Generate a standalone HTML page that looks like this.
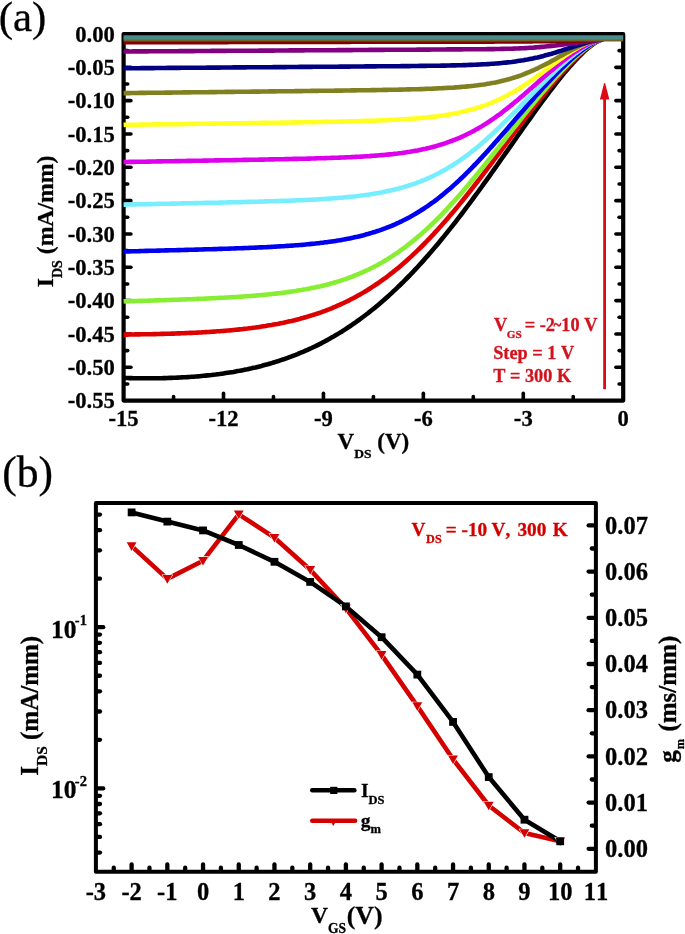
<!DOCTYPE html>
<html><head><meta charset="utf-8"><title>Figure</title>
<style>html,body{margin:0;padding:0;background:#fff;}body{width:685px;height:934px;overflow:hidden;font-family:"Liberation Serif",serif;}svg{display:block;will-change:transform;font-kerning:none;font-feature-settings:"kern" 0;}</style>
</head><body>
<svg width="685" height="934" viewBox="0 0 685 934" font-family='"Liberation Serif", serif'><line x1="124.60" y1="50.66" x2="127.70" y2="50.66" stroke="#000" stroke-width="3.6" stroke-linecap="round"/>
<line x1="622.20" y1="50.66" x2="619.10" y2="50.66" stroke="#000" stroke-width="3.6" stroke-linecap="round"/>
<line x1="124.60" y1="67.33" x2="130.90" y2="67.33" stroke="#000" stroke-width="3.6" stroke-linecap="round"/>
<line x1="622.20" y1="67.33" x2="615.90" y2="67.33" stroke="#000" stroke-width="3.6" stroke-linecap="round"/>
<line x1="124.60" y1="83.99" x2="127.70" y2="83.99" stroke="#000" stroke-width="3.6" stroke-linecap="round"/>
<line x1="622.20" y1="83.99" x2="619.10" y2="83.99" stroke="#000" stroke-width="3.6" stroke-linecap="round"/>
<line x1="124.60" y1="100.65" x2="130.90" y2="100.65" stroke="#000" stroke-width="3.6" stroke-linecap="round"/>
<line x1="622.20" y1="100.65" x2="615.90" y2="100.65" stroke="#000" stroke-width="3.6" stroke-linecap="round"/>
<line x1="124.60" y1="117.32" x2="127.70" y2="117.32" stroke="#000" stroke-width="3.6" stroke-linecap="round"/>
<line x1="622.20" y1="117.32" x2="619.10" y2="117.32" stroke="#000" stroke-width="3.6" stroke-linecap="round"/>
<line x1="124.60" y1="133.98" x2="130.90" y2="133.98" stroke="#000" stroke-width="3.6" stroke-linecap="round"/>
<line x1="622.20" y1="133.98" x2="615.90" y2="133.98" stroke="#000" stroke-width="3.6" stroke-linecap="round"/>
<line x1="124.60" y1="150.65" x2="127.70" y2="150.65" stroke="#000" stroke-width="3.6" stroke-linecap="round"/>
<line x1="622.20" y1="150.65" x2="619.10" y2="150.65" stroke="#000" stroke-width="3.6" stroke-linecap="round"/>
<line x1="124.60" y1="167.31" x2="130.90" y2="167.31" stroke="#000" stroke-width="3.6" stroke-linecap="round"/>
<line x1="622.20" y1="167.31" x2="615.90" y2="167.31" stroke="#000" stroke-width="3.6" stroke-linecap="round"/>
<line x1="124.60" y1="183.97" x2="127.70" y2="183.97" stroke="#000" stroke-width="3.6" stroke-linecap="round"/>
<line x1="622.20" y1="183.97" x2="619.10" y2="183.97" stroke="#000" stroke-width="3.6" stroke-linecap="round"/>
<line x1="124.60" y1="200.64" x2="130.90" y2="200.64" stroke="#000" stroke-width="3.6" stroke-linecap="round"/>
<line x1="622.20" y1="200.64" x2="615.90" y2="200.64" stroke="#000" stroke-width="3.6" stroke-linecap="round"/>
<line x1="124.60" y1="217.30" x2="127.70" y2="217.30" stroke="#000" stroke-width="3.6" stroke-linecap="round"/>
<line x1="622.20" y1="217.30" x2="619.10" y2="217.30" stroke="#000" stroke-width="3.6" stroke-linecap="round"/>
<line x1="124.60" y1="233.96" x2="130.90" y2="233.96" stroke="#000" stroke-width="3.6" stroke-linecap="round"/>
<line x1="622.20" y1="233.96" x2="615.90" y2="233.96" stroke="#000" stroke-width="3.6" stroke-linecap="round"/>
<line x1="124.60" y1="250.63" x2="127.70" y2="250.63" stroke="#000" stroke-width="3.6" stroke-linecap="round"/>
<line x1="622.20" y1="250.63" x2="619.10" y2="250.63" stroke="#000" stroke-width="3.6" stroke-linecap="round"/>
<line x1="124.60" y1="267.29" x2="130.90" y2="267.29" stroke="#000" stroke-width="3.6" stroke-linecap="round"/>
<line x1="622.20" y1="267.29" x2="615.90" y2="267.29" stroke="#000" stroke-width="3.6" stroke-linecap="round"/>
<line x1="124.60" y1="283.95" x2="127.70" y2="283.95" stroke="#000" stroke-width="3.6" stroke-linecap="round"/>
<line x1="622.20" y1="283.95" x2="619.10" y2="283.95" stroke="#000" stroke-width="3.6" stroke-linecap="round"/>
<line x1="124.60" y1="300.62" x2="130.90" y2="300.62" stroke="#000" stroke-width="3.6" stroke-linecap="round"/>
<line x1="622.20" y1="300.62" x2="615.90" y2="300.62" stroke="#000" stroke-width="3.6" stroke-linecap="round"/>
<line x1="124.60" y1="317.28" x2="127.70" y2="317.28" stroke="#000" stroke-width="3.6" stroke-linecap="round"/>
<line x1="622.20" y1="317.28" x2="619.10" y2="317.28" stroke="#000" stroke-width="3.6" stroke-linecap="round"/>
<line x1="124.60" y1="333.95" x2="130.90" y2="333.95" stroke="#000" stroke-width="3.6" stroke-linecap="round"/>
<line x1="622.20" y1="333.95" x2="615.90" y2="333.95" stroke="#000" stroke-width="3.6" stroke-linecap="round"/>
<line x1="124.60" y1="350.61" x2="127.70" y2="350.61" stroke="#000" stroke-width="3.6" stroke-linecap="round"/>
<line x1="622.20" y1="350.61" x2="619.10" y2="350.61" stroke="#000" stroke-width="3.6" stroke-linecap="round"/>
<line x1="124.60" y1="367.27" x2="130.90" y2="367.27" stroke="#000" stroke-width="3.6" stroke-linecap="round"/>
<line x1="622.20" y1="367.27" x2="615.90" y2="367.27" stroke="#000" stroke-width="3.6" stroke-linecap="round"/>
<line x1="124.60" y1="383.94" x2="127.70" y2="383.94" stroke="#000" stroke-width="3.6" stroke-linecap="round"/>
<line x1="622.20" y1="383.94" x2="619.10" y2="383.94" stroke="#000" stroke-width="3.6" stroke-linecap="round"/>
<line x1="173.56" y1="399.60" x2="173.56" y2="396.50" stroke="#000" stroke-width="3.6" stroke-linecap="round"/>
<line x1="223.52" y1="399.60" x2="223.52" y2="393.30" stroke="#000" stroke-width="3.6" stroke-linecap="round"/>
<line x1="273.48" y1="399.60" x2="273.48" y2="396.50" stroke="#000" stroke-width="3.6" stroke-linecap="round"/>
<line x1="323.44" y1="399.60" x2="323.44" y2="393.30" stroke="#000" stroke-width="3.6" stroke-linecap="round"/>
<line x1="373.40" y1="399.60" x2="373.40" y2="396.50" stroke="#000" stroke-width="3.6" stroke-linecap="round"/>
<line x1="423.36" y1="399.60" x2="423.36" y2="393.30" stroke="#000" stroke-width="3.6" stroke-linecap="round"/>
<line x1="473.32" y1="399.60" x2="473.32" y2="396.50" stroke="#000" stroke-width="3.6" stroke-linecap="round"/>
<line x1="523.28" y1="399.60" x2="523.28" y2="393.30" stroke="#000" stroke-width="3.6" stroke-linecap="round"/>
<line x1="573.24" y1="399.60" x2="573.24" y2="396.50" stroke="#000" stroke-width="3.6" stroke-linecap="round"/>
<rect x="123.6" y="34.0" width="499.6" height="366.6" fill="none" stroke="#000" stroke-width="4.2" stroke-linejoin="round"/>
<path d="M123.6,377.9 L125.6,378.0 L127.6,378.0 L129.6,378.1 L131.6,378.1 L133.6,378.2 L135.6,378.2 L137.6,378.2 L139.6,378.2 L141.6,378.3 L143.6,378.3 L145.6,378.3 L147.6,378.3 L149.6,378.3 L151.6,378.3 L153.6,378.3 L155.6,378.2 L157.6,378.2 L159.6,378.2 L161.6,378.2 L163.6,378.1 L165.6,378.1 L167.6,378.0 L169.6,377.9 L171.6,377.9 L173.6,377.8 L175.6,377.7 L177.6,377.6 L179.6,377.5 L181.6,377.4 L183.6,377.3 L185.6,377.2 L187.6,377.1 L189.6,377.0 L191.6,376.8 L193.6,376.7 L195.6,376.5 L197.6,376.4 L199.6,376.2 L201.6,376.0 L203.6,375.8 L205.6,375.6 L207.6,375.4 L209.6,375.2 L211.6,375.0 L213.6,374.7 L215.6,374.5 L217.6,374.2 L219.6,374.0 L221.6,373.7 L223.6,373.4 L225.6,373.1 L227.6,372.8 L229.6,372.5 L231.6,372.2 L233.6,371.9 L235.6,371.5 L237.6,371.1 L239.6,370.8 L241.6,370.4 L243.6,370.0 L245.6,369.6 L247.6,369.2 L249.6,368.7 L251.6,368.3 L253.6,367.8 L255.6,367.4 L257.6,366.9 L259.6,366.4 L261.6,365.9 L263.6,365.3 L265.6,364.8 L267.6,364.3 L269.6,363.7 L271.6,363.1 L273.6,362.5 L275.6,361.9 L277.6,361.3 L279.6,360.6 L281.6,359.9 L283.6,359.3 L285.6,358.6 L287.6,357.9 L289.6,357.1 L291.6,356.4 L293.6,355.6 L295.6,354.9 L297.6,354.1 L299.6,353.2 L301.6,352.4 L303.6,351.6 L305.6,350.7 L307.6,349.8 L309.6,348.9 L311.6,348.0 L313.6,347.0 L315.6,346.1 L317.6,345.1 L319.6,344.1 L321.6,343.1 L323.6,342.0 L325.6,340.9 L327.6,339.9 L329.6,338.7 L331.6,337.6 L333.6,336.5 L335.6,335.3 L337.6,334.1 L339.6,332.9 L341.6,331.7 L343.6,330.4 L345.6,329.1 L347.6,327.8 L349.6,326.5 L351.6,325.1 L353.6,323.7 L355.6,322.4 L357.6,320.9 L359.6,319.5 L361.6,318.0 L363.6,316.5 L365.6,315.0 L367.6,313.5 L369.6,311.9 L371.6,310.3 L373.6,308.7 L375.6,307.1 L377.6,305.4 L379.6,303.7 L381.6,302.0 L383.6,300.3 L385.6,298.5 L387.6,296.7 L389.6,294.9 L391.6,293.1 L393.6,291.2 L395.6,289.3 L397.6,287.4 L399.6,285.5 L401.6,283.5 L403.6,281.6 L405.6,279.5 L407.6,277.5 L409.6,275.5 L411.6,273.4 L413.6,271.3 L415.6,269.1 L417.6,267.0 L419.6,264.8 L421.6,262.6 L423.6,260.4 L425.6,258.1 L427.6,255.9 L429.6,253.6 L431.6,251.3 L433.6,248.9 L435.6,246.6 L437.6,244.2 L439.6,241.8 L441.6,239.3 L443.6,236.9 L445.6,234.4 L447.6,231.9 L449.6,229.4 L451.6,226.9 L453.6,224.4 L455.6,221.8 L457.6,219.2 L459.6,216.6 L461.6,214.0 L463.6,211.4 L465.6,208.7 L467.6,206.0 L469.6,203.4 L471.6,200.7 L473.6,197.9 L475.6,195.2 L477.6,192.5 L479.6,189.7 L481.6,187.0 L483.6,184.2 L485.6,181.4 L487.6,178.6 L489.6,175.8 L491.6,173.0 L493.6,170.2 L495.6,167.4 L497.6,164.5 L499.6,161.7 L501.6,158.8 L503.6,156.0 L505.6,153.1 L507.6,150.3 L509.6,147.4 L511.6,144.6 L513.6,141.7 L515.6,138.9 L517.6,136.0 L519.6,133.2 L521.6,130.4 L523.6,127.5 L525.6,124.7 L527.6,121.9 L529.6,119.1 L531.6,116.3 L533.6,113.5 L535.6,110.7 L537.6,107.9 L539.6,105.2 L541.6,102.5 L543.6,99.7 L545.6,97.1 L547.6,94.4 L549.6,91.7 L551.6,89.1 L553.6,86.5 L555.6,83.9 L557.6,81.4 L559.6,78.9 L561.6,76.4 L563.6,73.9 L565.6,71.5 L567.6,69.2 L569.6,66.8 L571.6,64.6 L573.6,62.3 L575.6,60.2 L577.6,58.1 L579.6,56.0 L581.6,54.0 L583.6,52.1 L585.6,50.2 L587.6,48.5 L589.6,46.8 L591.6,45.3 L593.6,43.8 L595.6,42.5 L597.6,41.4 L599.6,40.4 L601.6,39.7 L603.0,39.5" fill="none" stroke="#000000" stroke-width="4.6" stroke-linejoin="round" stroke-linecap="butt"/>
<path d="M123.6,334.6 L125.6,334.6 L127.6,334.6 L129.6,334.5 L131.6,334.5 L133.6,334.5 L135.6,334.4 L137.6,334.4 L139.6,334.4 L141.6,334.3 L143.6,334.3 L145.6,334.3 L147.6,334.2 L149.6,334.2 L151.6,334.2 L153.6,334.1 L155.6,334.1 L157.6,334.0 L159.6,334.0 L161.6,333.9 L163.6,333.9 L165.6,333.8 L167.6,333.8 L169.6,333.7 L171.6,333.6 L173.6,333.6 L175.6,333.5 L177.6,333.4 L179.6,333.4 L181.6,333.3 L183.6,333.2 L185.6,333.1 L187.6,333.0 L189.6,332.9 L191.6,332.9 L193.6,332.8 L195.6,332.7 L197.6,332.6 L199.6,332.5 L201.6,332.4 L203.6,332.2 L205.6,332.1 L207.6,332.0 L209.6,331.9 L211.6,331.7 L213.6,331.6 L215.6,331.5 L217.6,331.3 L219.6,331.2 L221.6,331.0 L223.6,330.9 L225.6,330.7 L227.6,330.5 L229.6,330.4 L231.6,330.2 L233.6,330.0 L235.6,329.8 L237.6,329.6 L239.6,329.4 L241.6,329.2 L243.6,328.9 L245.6,328.7 L247.6,328.5 L249.6,328.2 L251.6,328.0 L253.6,327.7 L255.6,327.5 L257.6,327.2 L259.6,326.9 L261.6,326.6 L263.6,326.3 L265.6,326.0 L267.6,325.6 L269.6,325.3 L271.6,325.0 L273.6,324.6 L275.6,324.2 L277.6,323.9 L279.6,323.5 L281.6,323.1 L283.6,322.7 L285.6,322.2 L287.6,321.8 L289.6,321.3 L291.6,320.9 L293.6,320.4 L295.6,319.9 L297.6,319.4 L299.6,318.9 L301.6,318.3 L303.6,317.8 L305.6,317.2 L307.6,316.6 L309.6,316.0 L311.6,315.4 L313.6,314.8 L315.6,314.1 L317.6,313.5 L319.6,312.8 L321.6,312.1 L323.6,311.3 L325.6,310.6 L327.6,309.8 L329.6,309.1 L331.6,308.3 L333.6,307.4 L335.6,306.6 L337.6,305.7 L339.6,304.8 L341.6,303.9 L343.6,303.0 L345.6,302.0 L347.6,301.1 L349.6,300.1 L351.6,299.0 L353.6,298.0 L355.6,296.9 L357.6,295.8 L359.6,294.7 L361.6,293.6 L363.6,292.4 L365.6,291.2 L367.6,290.0 L369.6,288.7 L371.6,287.4 L373.6,286.1 L375.6,284.8 L377.6,283.5 L379.6,282.1 L381.6,280.7 L383.6,279.2 L385.6,277.8 L387.6,276.3 L389.6,274.7 L391.6,273.2 L393.6,271.6 L395.6,270.0 L397.6,268.4 L399.6,266.7 L401.6,265.0 L403.6,263.3 L405.6,261.5 L407.6,259.7 L409.6,257.9 L411.6,256.1 L413.6,254.2 L415.6,252.3 L417.6,250.4 L419.6,248.5 L421.6,246.5 L423.6,244.5 L425.6,242.5 L427.6,240.4 L429.6,238.3 L431.6,236.2 L433.6,234.1 L435.6,231.9 L437.6,229.7 L439.6,227.5 L441.6,225.3 L443.6,223.0 L445.6,220.7 L447.6,218.4 L449.6,216.1 L451.6,213.7 L453.6,211.4 L455.6,209.0 L457.6,206.6 L459.6,204.1 L461.6,201.7 L463.6,199.2 L465.6,196.7 L467.6,194.2 L469.6,191.7 L471.6,189.2 L473.6,186.6 L475.6,184.0 L477.6,181.5 L479.6,178.9 L481.6,176.3 L483.6,173.6 L485.6,171.0 L487.6,168.4 L489.6,165.8 L491.6,163.1 L493.6,160.4 L495.6,157.8 L497.6,155.1 L499.6,152.5 L501.6,149.8 L503.6,147.1 L505.6,144.4 L507.6,141.8 L509.6,139.1 L511.6,136.4 L513.6,133.7 L515.6,131.1 L517.6,128.4 L519.6,125.8 L521.6,123.1 L523.6,120.5 L525.6,117.8 L527.6,115.2 L529.6,112.6 L531.6,110.0 L533.6,107.4 L535.6,104.9 L537.6,102.3 L539.6,99.8 L541.6,97.3 L543.6,94.8 L545.6,92.3 L547.6,89.8 L549.6,87.4 L551.6,85.0 L553.6,82.6 L555.6,80.2 L557.6,77.9 L559.6,75.6 L561.6,73.3 L563.6,71.1 L565.6,68.9 L567.6,66.7 L569.6,64.6 L571.6,62.5 L573.6,60.5 L575.6,58.5 L577.6,56.6 L579.6,54.7 L581.6,52.9 L583.6,51.1 L585.6,49.4 L587.6,47.8 L589.6,46.3 L591.6,44.9 L593.6,43.5 L595.6,42.3 L597.6,41.3 L599.6,40.4 L601.6,39.7 L603.0,39.5" fill="none" stroke="#dd0000" stroke-width="4.6" stroke-linejoin="round" stroke-linecap="butt"/>
<path d="M123.6,301.4 L125.6,301.3 L127.6,301.3 L129.6,301.2 L131.6,301.1 L133.6,301.1 L135.6,301.0 L137.6,301.0 L139.6,300.9 L141.6,300.9 L143.6,300.8 L145.6,300.7 L147.6,300.7 L149.6,300.6 L151.6,300.5 L153.6,300.5 L155.6,300.4 L157.6,300.4 L159.6,300.3 L161.6,300.2 L163.6,300.2 L165.6,300.1 L167.6,300.0 L169.6,300.0 L171.6,299.9 L173.6,299.8 L175.6,299.8 L177.6,299.7 L179.6,299.6 L181.6,299.5 L183.6,299.5 L185.6,299.4 L187.6,299.3 L189.6,299.2 L191.6,299.2 L193.6,299.1 L195.6,299.0 L197.6,298.9 L199.6,298.8 L201.6,298.8 L203.6,298.7 L205.6,298.6 L207.6,298.5 L209.6,298.4 L211.6,298.3 L213.6,298.2 L215.6,298.1 L217.6,298.0 L219.6,297.9 L221.6,297.8 L223.6,297.7 L225.6,297.6 L227.6,297.5 L229.6,297.4 L231.6,297.2 L233.6,297.1 L235.6,297.0 L237.6,296.9 L239.6,296.7 L241.6,296.6 L243.6,296.5 L245.6,296.3 L247.6,296.2 L249.6,296.0 L251.6,295.9 L253.6,295.7 L255.6,295.6 L257.6,295.4 L259.6,295.2 L261.6,295.0 L263.6,294.9 L265.6,294.7 L267.6,294.5 L269.6,294.3 L271.6,294.1 L273.6,293.8 L275.6,293.6 L277.6,293.4 L279.6,293.2 L281.6,292.9 L283.6,292.7 L285.6,292.4 L287.6,292.1 L289.6,291.9 L291.6,291.6 L293.6,291.3 L295.6,291.0 L297.6,290.6 L299.6,290.3 L301.6,290.0 L303.6,289.6 L305.6,289.3 L307.6,288.9 L309.6,288.5 L311.6,288.1 L313.6,287.7 L315.6,287.3 L317.6,286.8 L319.6,286.4 L321.6,285.9 L323.6,285.4 L325.6,284.9 L327.6,284.4 L329.6,283.9 L331.6,283.3 L333.6,282.8 L335.6,282.2 L337.6,281.6 L339.6,281.0 L341.6,280.3 L343.6,279.6 L345.6,279.0 L347.6,278.3 L349.6,277.5 L351.6,276.8 L353.6,276.0 L355.6,275.2 L357.6,274.4 L359.6,273.6 L361.6,272.7 L363.6,271.8 L365.6,270.9 L367.6,270.0 L369.6,269.0 L371.6,268.0 L373.6,267.0 L375.6,266.0 L377.6,264.9 L379.6,263.8 L381.6,262.7 L383.6,261.5 L385.6,260.3 L387.6,259.1 L389.6,257.8 L391.6,256.6 L393.6,255.3 L395.6,253.9 L397.6,252.6 L399.6,251.2 L401.6,249.7 L403.6,248.3 L405.6,246.8 L407.6,245.2 L409.6,243.7 L411.6,242.1 L413.6,240.5 L415.6,238.8 L417.6,237.1 L419.6,235.4 L421.6,233.7 L423.6,231.9 L425.6,230.1 L427.6,228.3 L429.6,226.4 L431.6,224.5 L433.6,222.6 L435.6,220.6 L437.6,218.6 L439.6,216.6 L441.6,214.6 L443.6,212.5 L445.6,210.4 L447.6,208.3 L449.6,206.1 L451.6,203.9 L453.6,201.7 L455.6,199.5 L457.6,197.2 L459.6,195.0 L461.6,192.7 L463.6,190.4 L465.6,188.0 L467.6,185.7 L469.6,183.3 L471.6,180.9 L473.6,178.5 L475.6,176.1 L477.6,173.6 L479.6,171.2 L481.6,168.7 L483.6,166.2 L485.6,163.7 L487.6,161.2 L489.6,158.7 L491.6,156.2 L493.6,153.7 L495.6,151.1 L497.6,148.6 L499.6,146.1 L501.6,143.5 L503.6,141.0 L505.6,138.4 L507.6,135.9 L509.6,133.3 L511.6,130.8 L513.6,128.2 L515.6,125.7 L517.6,123.2 L519.6,120.6 L521.6,118.1 L523.6,115.6 L525.6,113.1 L527.6,110.6 L529.6,108.1 L531.6,105.7 L533.6,103.2 L535.6,100.8 L537.6,98.4 L539.6,96.0 L541.6,93.6 L543.6,91.2 L545.6,88.9 L547.6,86.6 L549.6,84.3 L551.6,82.0 L553.6,79.7 L555.6,77.5 L557.6,75.3 L559.6,73.2 L561.6,71.0 L563.6,68.9 L565.6,66.9 L567.6,64.8 L569.6,62.8 L571.6,60.9 L573.6,59.0 L575.6,57.1 L577.6,55.3 L579.6,53.6 L581.6,51.9 L583.6,50.2 L585.6,48.7 L587.6,47.2 L589.6,45.8 L591.6,44.4 L593.6,43.2 L595.6,42.1 L597.6,41.1 L599.6,40.3 L601.6,39.7 L603.0,39.5" fill="none" stroke="#88ee33" stroke-width="4.6" stroke-linejoin="round" stroke-linecap="butt"/>
<path d="M123.6,251.5 L125.6,251.5 L127.6,251.4 L129.6,251.4 L131.6,251.3 L133.6,251.3 L135.6,251.2 L137.6,251.2 L139.6,251.1 L141.6,251.0 L143.6,251.0 L145.6,250.9 L147.6,250.9 L149.6,250.8 L151.6,250.8 L153.6,250.7 L155.6,250.7 L157.6,250.6 L159.6,250.6 L161.6,250.5 L163.6,250.5 L165.6,250.4 L167.6,250.4 L169.6,250.3 L171.6,250.3 L173.6,250.2 L175.6,250.2 L177.6,250.1 L179.6,250.1 L181.6,250.0 L183.6,250.0 L185.6,249.9 L187.6,249.9 L189.6,249.8 L191.6,249.7 L193.6,249.7 L195.6,249.6 L197.6,249.6 L199.6,249.5 L201.6,249.5 L203.6,249.4 L205.6,249.3 L207.6,249.3 L209.6,249.2 L211.6,249.2 L213.6,249.1 L215.6,249.1 L217.6,249.0 L219.6,248.9 L221.6,248.9 L223.6,248.8 L225.6,248.7 L227.6,248.7 L229.6,248.6 L231.6,248.5 L233.6,248.5 L235.6,248.4 L237.6,248.3 L239.6,248.3 L241.6,248.2 L243.6,248.1 L245.6,248.0 L247.6,248.0 L249.6,247.9 L251.6,247.8 L253.6,247.7 L255.6,247.6 L257.6,247.5 L259.6,247.4 L261.6,247.4 L263.6,247.3 L265.6,247.2 L267.6,247.1 L269.6,247.0 L271.6,246.9 L273.6,246.8 L275.6,246.6 L277.6,246.5 L279.6,246.4 L281.6,246.3 L283.6,246.2 L285.6,246.0 L287.6,245.9 L289.6,245.8 L291.6,245.6 L293.6,245.5 L295.6,245.3 L297.6,245.2 L299.6,245.0 L301.6,244.9 L303.6,244.7 L305.6,244.5 L307.6,244.3 L309.6,244.1 L311.6,243.9 L313.6,243.7 L315.6,243.5 L317.6,243.3 L319.6,243.1 L321.6,242.8 L323.6,242.6 L325.6,242.3 L327.6,242.1 L329.6,241.8 L331.6,241.5 L333.6,241.2 L335.6,240.9 L337.6,240.6 L339.6,240.3 L341.6,239.9 L343.6,239.6 L345.6,239.2 L347.6,238.8 L349.6,238.4 L351.6,238.0 L353.6,237.6 L355.6,237.1 L357.6,236.7 L359.6,236.2 L361.6,235.7 L363.6,235.2 L365.6,234.6 L367.6,234.1 L369.6,233.5 L371.6,232.9 L373.6,232.3 L375.6,231.7 L377.6,231.0 L379.6,230.4 L381.6,229.7 L383.6,228.9 L385.6,228.2 L387.6,227.4 L389.6,226.6 L391.6,225.8 L393.6,225.0 L395.6,224.1 L397.6,223.2 L399.6,222.2 L401.6,221.3 L403.6,220.3 L405.6,219.3 L407.6,218.2 L409.6,217.2 L411.6,216.1 L413.6,214.9 L415.6,213.7 L417.6,212.5 L419.6,211.3 L421.6,210.0 L423.6,208.7 L425.6,207.4 L427.6,206.1 L429.6,204.7 L431.6,203.2 L433.6,201.8 L435.6,200.3 L437.6,198.8 L439.6,197.2 L441.6,195.6 L443.6,194.0 L445.6,192.3 L447.6,190.6 L449.6,188.9 L451.6,187.2 L453.6,185.4 L455.6,183.6 L457.6,181.8 L459.6,179.9 L461.6,178.0 L463.6,176.1 L465.6,174.1 L467.6,172.1 L469.6,170.1 L471.6,168.1 L473.6,166.0 L475.6,164.0 L477.6,161.9 L479.6,159.7 L481.6,157.6 L483.6,155.4 L485.6,153.3 L487.6,151.1 L489.6,148.8 L491.6,146.6 L493.6,144.4 L495.6,142.1 L497.6,139.9 L499.6,137.6 L501.6,135.3 L503.6,133.0 L505.6,130.7 L507.6,128.4 L509.6,126.1 L511.6,123.7 L513.6,121.4 L515.6,119.1 L517.6,116.8 L519.6,114.5 L521.6,112.2 L523.6,109.9 L525.6,107.5 L527.6,105.2 L529.6,103.0 L531.6,100.7 L533.6,98.4 L535.6,96.1 L537.6,93.9 L539.6,91.7 L541.6,89.5 L543.6,87.3 L545.6,85.1 L547.6,82.9 L549.6,80.8 L551.6,78.7 L553.6,76.6 L555.6,74.5 L557.6,72.4 L559.6,70.4 L561.6,68.4 L563.6,66.5 L565.6,64.6 L567.6,62.7 L569.6,60.8 L571.6,59.0 L573.6,57.3 L575.6,55.5 L577.6,53.9 L579.6,52.3 L581.6,50.7 L583.6,49.2 L585.6,47.7 L587.6,46.4 L589.6,45.1 L591.6,43.9 L593.6,42.8 L595.6,41.8 L597.6,40.9 L599.6,40.2 L601.6,39.7 L603.0,39.5" fill="none" stroke="#0000f0" stroke-width="4.6" stroke-linejoin="round" stroke-linecap="butt"/>
<path d="M123.6,204.6 L125.6,204.6 L127.6,204.5 L129.6,204.5 L131.6,204.5 L133.6,204.4 L135.6,204.4 L137.6,204.3 L139.6,204.3 L141.6,204.3 L143.6,204.2 L145.6,204.2 L147.6,204.1 L149.6,204.1 L151.6,204.1 L153.6,204.0 L155.6,204.0 L157.6,203.9 L159.6,203.9 L161.6,203.8 L163.6,203.8 L165.6,203.8 L167.6,203.7 L169.6,203.7 L171.6,203.6 L173.6,203.6 L175.6,203.6 L177.6,203.5 L179.6,203.5 L181.6,203.4 L183.6,203.4 L185.6,203.3 L187.6,203.3 L189.6,203.3 L191.6,203.2 L193.6,203.2 L195.6,203.1 L197.6,203.1 L199.6,203.0 L201.6,203.0 L203.6,203.0 L205.6,202.9 L207.6,202.9 L209.6,202.8 L211.6,202.8 L213.6,202.7 L215.6,202.7 L217.6,202.7 L219.6,202.6 L221.6,202.6 L223.6,202.5 L225.6,202.5 L227.6,202.4 L229.6,202.4 L231.6,202.3 L233.6,202.3 L235.6,202.2 L237.6,202.2 L239.6,202.1 L241.6,202.1 L243.6,202.0 L245.6,202.0 L247.6,201.9 L249.6,201.9 L251.6,201.8 L253.6,201.8 L255.6,201.7 L257.6,201.7 L259.6,201.6 L261.6,201.6 L263.6,201.5 L265.6,201.4 L267.6,201.4 L269.6,201.3 L271.6,201.3 L273.6,201.2 L275.6,201.1 L277.6,201.1 L279.6,201.0 L281.6,200.9 L283.6,200.9 L285.6,200.8 L287.6,200.7 L289.6,200.7 L291.6,200.6 L293.6,200.5 L295.6,200.4 L297.6,200.3 L299.6,200.3 L301.6,200.2 L303.6,200.1 L305.6,200.0 L307.6,199.9 L309.6,199.8 L311.6,199.7 L313.6,199.6 L315.6,199.5 L317.6,199.4 L319.6,199.2 L321.6,199.1 L323.6,199.0 L325.6,198.9 L327.6,198.7 L329.6,198.6 L331.6,198.5 L333.6,198.3 L335.6,198.2 L337.6,198.0 L339.6,197.8 L341.6,197.7 L343.6,197.5 L345.6,197.3 L347.6,197.1 L349.6,196.9 L351.6,196.7 L353.6,196.5 L355.6,196.3 L357.6,196.0 L359.6,195.8 L361.6,195.5 L363.6,195.3 L365.6,195.0 L367.6,194.7 L369.6,194.4 L371.6,194.1 L373.6,193.8 L375.6,193.4 L377.6,193.1 L379.6,192.7 L381.6,192.4 L383.6,192.0 L385.6,191.6 L387.6,191.1 L389.6,190.7 L391.6,190.3 L393.6,189.8 L395.6,189.3 L397.6,188.8 L399.6,188.3 L401.6,187.7 L403.6,187.1 L405.6,186.5 L407.6,185.9 L409.6,185.3 L411.6,184.6 L413.6,184.0 L415.6,183.3 L417.6,182.5 L419.6,181.8 L421.6,181.0 L423.6,180.2 L425.6,179.3 L427.6,178.5 L429.6,177.6 L431.6,176.7 L433.6,175.7 L435.6,174.7 L437.6,173.7 L439.6,172.7 L441.6,171.6 L443.6,170.5 L445.6,169.4 L447.6,168.2 L449.6,167.0 L451.6,165.8 L453.6,164.5 L455.6,163.2 L457.6,161.9 L459.6,160.6 L461.6,159.2 L463.6,157.8 L465.6,156.3 L467.6,154.8 L469.6,153.3 L471.6,151.7 L473.6,150.2 L475.6,148.6 L477.6,146.9 L479.6,145.2 L481.6,143.5 L483.6,141.8 L485.6,140.1 L487.6,138.3 L489.6,136.5 L491.6,134.6 L493.6,132.8 L495.6,130.9 L497.6,129.0 L499.6,127.1 L501.6,125.1 L503.6,123.2 L505.6,121.2 L507.6,119.2 L509.6,117.2 L511.6,115.2 L513.6,113.2 L515.6,111.1 L517.6,109.1 L519.6,107.0 L521.6,104.9 L523.6,102.9 L525.6,100.8 L527.6,98.7 L529.6,96.7 L531.6,94.6 L533.6,92.6 L535.6,90.5 L537.6,88.4 L539.6,86.4 L541.6,84.4 L543.6,82.4 L545.6,80.4 L547.6,78.4 L549.6,76.4 L551.6,74.5 L553.6,72.5 L555.6,70.6 L557.6,68.7 L559.6,66.9 L561.6,65.1 L563.6,63.3 L565.6,61.5 L567.6,59.8 L569.6,58.1 L571.6,56.5 L573.6,54.9 L575.6,53.3 L577.6,51.8 L579.6,50.3 L581.6,48.9 L583.6,47.6 L585.6,46.3 L587.6,45.1 L589.6,44.0 L591.6,43.0 L593.6,42.1 L595.6,41.2 L597.6,40.5 L599.6,40.0 L601.6,39.6 L603.0,39.5" fill="none" stroke="#77eeff" stroke-width="4.6" stroke-linejoin="round" stroke-linecap="butt"/>
<path d="M123.6,162.0 L125.6,162.0 L127.6,162.0 L129.6,161.9 L131.6,161.9 L133.6,161.9 L135.6,161.8 L137.6,161.8 L139.6,161.8 L141.6,161.7 L143.6,161.7 L145.6,161.7 L147.6,161.6 L149.6,161.6 L151.6,161.5 L153.6,161.5 L155.6,161.5 L157.6,161.4 L159.6,161.4 L161.6,161.4 L163.6,161.3 L165.6,161.3 L167.6,161.3 L169.6,161.2 L171.6,161.2 L173.6,161.2 L175.6,161.1 L177.6,161.1 L179.6,161.1 L181.6,161.0 L183.6,161.0 L185.6,161.0 L187.6,160.9 L189.6,160.9 L191.6,160.9 L193.6,160.8 L195.6,160.8 L197.6,160.8 L199.6,160.7 L201.6,160.7 L203.6,160.6 L205.6,160.6 L207.6,160.6 L209.6,160.5 L211.6,160.5 L213.6,160.5 L215.6,160.4 L217.6,160.4 L219.6,160.4 L221.6,160.3 L223.6,160.3 L225.6,160.3 L227.6,160.2 L229.6,160.2 L231.6,160.2 L233.6,160.1 L235.6,160.1 L237.6,160.0 L239.6,160.0 L241.6,160.0 L243.6,159.9 L245.6,159.9 L247.6,159.9 L249.6,159.8 L251.6,159.8 L253.6,159.8 L255.6,159.7 L257.6,159.7 L259.6,159.6 L261.6,159.6 L263.6,159.6 L265.6,159.5 L267.6,159.5 L269.6,159.4 L271.6,159.4 L273.6,159.4 L275.6,159.3 L277.6,159.3 L279.6,159.2 L281.6,159.2 L283.6,159.2 L285.6,159.1 L287.6,159.1 L289.6,159.0 L291.6,159.0 L293.6,158.9 L295.6,158.9 L297.6,158.9 L299.6,158.8 L301.6,158.8 L303.6,158.7 L305.6,158.7 L307.6,158.6 L309.6,158.6 L311.6,158.5 L313.6,158.5 L315.6,158.4 L317.6,158.3 L319.6,158.3 L321.6,158.2 L323.6,158.2 L325.6,158.1 L327.6,158.0 L329.6,158.0 L331.6,157.9 L333.6,157.8 L335.6,157.8 L337.6,157.7 L339.6,157.6 L341.6,157.5 L343.6,157.5 L345.6,157.4 L347.6,157.3 L349.6,157.2 L351.6,157.1 L353.6,157.0 L355.6,156.9 L357.6,156.8 L359.6,156.7 L361.6,156.6 L363.6,156.5 L365.6,156.3 L367.6,156.2 L369.6,156.1 L371.6,155.9 L373.6,155.8 L375.6,155.6 L377.6,155.5 L379.6,155.3 L381.6,155.1 L383.6,155.0 L385.6,154.8 L387.6,154.6 L389.6,154.4 L391.6,154.2 L393.6,153.9 L395.6,153.7 L397.6,153.5 L399.6,153.2 L401.6,153.0 L403.6,152.7 L405.6,152.4 L407.6,152.1 L409.6,151.8 L411.6,151.4 L413.6,151.1 L415.6,150.7 L417.6,150.4 L419.6,150.0 L421.6,149.6 L423.6,149.1 L425.6,148.7 L427.6,148.2 L429.6,147.8 L431.6,147.3 L433.6,146.7 L435.6,146.2 L437.6,145.6 L439.6,145.0 L441.6,144.4 L443.6,143.8 L445.6,143.1 L447.6,142.4 L449.6,141.7 L451.6,141.0 L453.6,140.2 L455.6,139.4 L457.6,138.6 L459.6,137.8 L461.6,136.9 L463.6,136.0 L465.6,135.0 L467.6,134.0 L469.6,133.0 L471.6,132.0 L473.6,130.9 L475.6,129.8 L477.6,128.7 L479.6,127.6 L481.6,126.4 L483.6,125.1 L485.6,123.9 L487.6,122.6 L489.6,121.3 L491.6,119.9 L493.6,118.6 L495.6,117.2 L497.6,115.7 L499.6,114.3 L501.6,112.8 L503.6,111.2 L505.6,109.7 L507.6,108.1 L509.6,106.5 L511.6,104.9 L513.6,103.3 L515.6,101.6 L517.6,100.0 L519.6,98.3 L521.6,96.6 L523.6,94.9 L525.6,93.1 L527.6,91.4 L529.6,89.6 L531.6,87.9 L533.6,86.1 L535.6,84.4 L537.6,82.6 L539.6,80.8 L541.6,79.1 L543.6,77.3 L545.6,75.6 L547.6,73.8 L549.6,72.1 L551.6,70.4 L553.6,68.7 L555.6,67.0 L557.6,65.3 L559.6,63.7 L561.6,62.0 L563.6,60.4 L565.6,58.9 L567.6,57.3 L569.6,55.8 L571.6,54.4 L573.6,52.9 L575.6,51.5 L577.6,50.2 L579.6,48.9 L581.6,47.7 L583.6,46.5 L585.6,45.4 L587.6,44.3 L589.6,43.3 L591.6,42.4 L593.6,41.6 L595.6,40.9 L597.6,40.3 L599.6,39.9 L601.6,39.6 L603.0,39.5" fill="none" stroke="#dd00ee" stroke-width="4.6" stroke-linejoin="round" stroke-linecap="butt"/>
<path d="M123.6,124.9 L125.6,124.8 L127.6,124.8 L129.6,124.8 L131.6,124.7 L133.6,124.7 L135.6,124.7 L137.6,124.7 L139.6,124.6 L141.6,124.6 L143.6,124.6 L145.6,124.5 L147.6,124.5 L149.6,124.5 L151.6,124.5 L153.6,124.4 L155.6,124.4 L157.6,124.4 L159.6,124.4 L161.6,124.3 L163.6,124.3 L165.6,124.3 L167.6,124.2 L169.6,124.2 L171.6,124.2 L173.6,124.2 L175.6,124.1 L177.6,124.1 L179.6,124.1 L181.6,124.1 L183.6,124.0 L185.6,124.0 L187.6,124.0 L189.6,123.9 L191.6,123.9 L193.6,123.9 L195.6,123.9 L197.6,123.8 L199.6,123.8 L201.6,123.8 L203.6,123.8 L205.6,123.7 L207.6,123.7 L209.6,123.7 L211.6,123.6 L213.6,123.6 L215.6,123.6 L217.6,123.6 L219.6,123.5 L221.6,123.5 L223.6,123.5 L225.6,123.4 L227.6,123.4 L229.6,123.4 L231.6,123.4 L233.6,123.3 L235.6,123.3 L237.6,123.3 L239.6,123.2 L241.6,123.2 L243.6,123.2 L245.6,123.2 L247.6,123.1 L249.6,123.1 L251.6,123.1 L253.6,123.0 L255.6,123.0 L257.6,123.0 L259.6,123.0 L261.6,122.9 L263.6,122.9 L265.6,122.9 L267.6,122.8 L269.6,122.8 L271.6,122.8 L273.6,122.8 L275.6,122.7 L277.6,122.7 L279.6,122.7 L281.6,122.6 L283.6,122.6 L285.6,122.6 L287.6,122.5 L289.6,122.5 L291.6,122.5 L293.6,122.4 L295.6,122.4 L297.6,122.4 L299.6,122.4 L301.6,122.3 L303.6,122.3 L305.6,122.3 L307.6,122.2 L309.6,122.2 L311.6,122.1 L313.6,122.1 L315.6,122.1 L317.6,122.0 L319.6,122.0 L321.6,122.0 L323.6,121.9 L325.6,121.9 L327.6,121.9 L329.6,121.8 L331.6,121.8 L333.6,121.7 L335.6,121.7 L337.6,121.7 L339.6,121.6 L341.6,121.6 L343.6,121.5 L345.6,121.5 L347.6,121.4 L349.6,121.4 L351.6,121.3 L353.6,121.3 L355.6,121.2 L357.6,121.2 L359.6,121.1 L361.6,121.1 L363.6,121.0 L365.6,120.9 L367.6,120.9 L369.6,120.8 L371.6,120.7 L373.6,120.7 L375.6,120.6 L377.6,120.5 L379.6,120.5 L381.6,120.4 L383.6,120.3 L385.6,120.2 L387.6,120.1 L389.6,120.0 L391.6,119.9 L393.6,119.8 L395.6,119.7 L397.6,119.6 L399.6,119.5 L401.6,119.4 L403.6,119.3 L405.6,119.2 L407.6,119.0 L409.6,118.9 L411.6,118.8 L413.6,118.6 L415.6,118.5 L417.6,118.3 L419.6,118.1 L421.6,117.9 L423.6,117.8 L425.6,117.6 L427.6,117.4 L429.6,117.1 L431.6,116.9 L433.6,116.7 L435.6,116.5 L437.6,116.2 L439.6,115.9 L441.6,115.7 L443.6,115.4 L445.6,115.1 L447.6,114.7 L449.6,114.4 L451.6,114.1 L453.6,113.7 L455.6,113.3 L457.6,112.9 L459.6,112.5 L461.6,112.1 L463.6,111.6 L465.6,111.1 L467.6,110.6 L469.6,110.1 L471.6,109.6 L473.6,109.0 L475.6,108.4 L477.6,107.8 L479.6,107.2 L481.6,106.5 L483.6,105.8 L485.6,105.1 L487.6,104.3 L489.6,103.6 L491.6,102.8 L493.6,101.9 L495.6,101.1 L497.6,100.2 L499.6,99.2 L501.6,98.3 L503.6,97.3 L505.6,96.3 L507.6,95.2 L509.6,94.1 L511.6,93.0 L513.6,91.9 L515.6,90.7 L517.6,89.5 L519.6,88.3 L521.6,87.0 L523.6,85.7 L525.6,84.4 L527.6,83.1 L529.6,81.7 L531.6,80.3 L533.6,78.9 L535.6,77.5 L537.6,76.0 L539.6,74.6 L541.6,73.1 L543.6,71.6 L545.6,70.1 L547.6,68.6 L549.6,67.1 L551.6,65.6 L553.6,64.1 L555.6,62.6 L557.6,61.2 L559.6,59.7 L561.6,58.3 L563.6,56.8 L565.6,55.4 L567.6,54.1 L569.6,52.7 L571.6,51.4 L573.6,50.2 L575.6,49.0 L577.6,47.8 L579.6,46.7 L581.6,45.6 L583.6,44.6 L585.6,43.7 L587.6,42.9 L589.6,42.1 L591.6,41.4 L593.6,40.8 L595.6,40.3 L597.6,40.0 L599.6,39.7 L601.6,39.5 L603.0,39.5" fill="none" stroke="#ffff22" stroke-width="4.6" stroke-linejoin="round" stroke-linecap="butt"/>
<path d="M123.6,93.1 L125.6,93.1 L127.6,93.1 L129.6,93.1 L131.6,93.0 L133.6,93.0 L135.6,93.0 L137.6,93.0 L139.6,92.9 L141.6,92.9 L143.6,92.9 L145.6,92.9 L147.6,92.8 L149.6,92.8 L151.6,92.8 L153.6,92.8 L155.6,92.8 L157.6,92.7 L159.6,92.7 L161.6,92.7 L163.6,92.7 L165.6,92.6 L167.6,92.6 L169.6,92.6 L171.6,92.6 L173.6,92.5 L175.6,92.5 L177.6,92.5 L179.6,92.5 L181.6,92.5 L183.6,92.4 L185.6,92.4 L187.6,92.4 L189.6,92.4 L191.6,92.3 L193.6,92.3 L195.6,92.3 L197.6,92.3 L199.6,92.2 L201.6,92.2 L203.6,92.2 L205.6,92.2 L207.6,92.2 L209.6,92.1 L211.6,92.1 L213.6,92.1 L215.6,92.1 L217.6,92.0 L219.6,92.0 L221.6,92.0 L223.6,92.0 L225.6,91.9 L227.6,91.9 L229.6,91.9 L231.6,91.9 L233.6,91.9 L235.6,91.8 L237.6,91.8 L239.6,91.8 L241.6,91.8 L243.6,91.7 L245.6,91.7 L247.6,91.7 L249.6,91.7 L251.6,91.6 L253.6,91.6 L255.6,91.6 L257.6,91.6 L259.6,91.6 L261.6,91.5 L263.6,91.5 L265.6,91.5 L267.6,91.5 L269.6,91.4 L271.6,91.4 L273.6,91.4 L275.6,91.4 L277.6,91.3 L279.6,91.3 L281.6,91.3 L283.6,91.3 L285.6,91.2 L287.6,91.2 L289.6,91.2 L291.6,91.2 L293.6,91.2 L295.6,91.1 L297.6,91.1 L299.6,91.1 L301.6,91.1 L303.6,91.0 L305.6,91.0 L307.6,91.0 L309.6,91.0 L311.6,90.9 L313.6,90.9 L315.6,90.9 L317.6,90.9 L319.6,90.8 L321.6,90.8 L323.6,90.8 L325.6,90.8 L327.6,90.7 L329.6,90.7 L331.6,90.7 L333.6,90.7 L335.6,90.6 L337.6,90.6 L339.6,90.6 L341.6,90.6 L343.6,90.5 L345.6,90.5 L347.6,90.5 L349.6,90.5 L351.6,90.4 L353.6,90.4 L355.6,90.4 L357.6,90.3 L359.6,90.3 L361.6,90.3 L363.6,90.3 L365.6,90.2 L367.6,90.2 L369.6,90.2 L371.6,90.1 L373.6,90.1 L375.6,90.1 L377.6,90.0 L379.6,90.0 L381.6,90.0 L383.6,89.9 L385.6,89.9 L387.6,89.9 L389.6,89.8 L391.6,89.8 L393.6,89.8 L395.6,89.7 L397.6,89.7 L399.6,89.6 L401.6,89.6 L403.6,89.5 L405.6,89.5 L407.6,89.4 L409.6,89.4 L411.6,89.3 L413.6,89.3 L415.6,89.2 L417.6,89.2 L419.6,89.1 L421.6,89.1 L423.6,89.0 L425.6,88.9 L427.6,88.8 L429.6,88.8 L431.6,88.7 L433.6,88.6 L435.6,88.5 L437.6,88.4 L439.6,88.3 L441.6,88.3 L443.6,88.1 L445.6,88.0 L447.6,87.9 L449.6,87.8 L451.6,87.7 L453.6,87.6 L455.6,87.4 L457.6,87.3 L459.6,87.1 L461.6,86.9 L463.6,86.8 L465.6,86.6 L467.6,86.4 L469.6,86.2 L471.6,86.0 L473.6,85.8 L475.6,85.5 L477.6,85.3 L479.6,85.0 L481.6,84.7 L483.6,84.5 L485.6,84.2 L487.6,83.8 L489.6,83.5 L491.6,83.1 L493.6,82.8 L495.6,82.4 L497.6,81.9 L499.6,81.5 L501.6,81.0 L503.6,80.6 L505.6,80.1 L507.6,79.5 L509.6,79.0 L511.6,78.4 L513.6,77.8 L515.6,77.1 L517.6,76.5 L519.6,75.8 L521.6,75.1 L523.6,74.3 L525.6,73.5 L527.6,72.7 L529.6,71.9 L531.6,71.0 L533.6,70.2 L535.6,69.2 L537.6,68.3 L539.6,67.3 L541.6,66.3 L543.6,65.3 L545.6,64.3 L547.6,63.2 L549.6,62.2 L551.6,61.1 L553.6,60.0 L555.6,58.9 L557.6,57.7 L559.6,56.6 L561.6,55.5 L563.6,54.4 L565.6,53.2 L567.6,52.1 L569.6,51.1 L571.6,50.0 L573.6,48.9 L575.6,47.9 L577.6,46.9 L579.6,46.0 L581.6,45.0 L583.6,44.2 L585.6,43.4 L587.6,42.6 L589.6,41.9 L591.6,41.3 L593.6,40.8 L595.6,40.3 L597.6,39.9 L599.6,39.7 L601.6,39.5 L603.0,39.5" fill="none" stroke="#808020" stroke-width="4.6" stroke-linejoin="round" stroke-linecap="butt"/>
<path d="M123.6,68.3 L125.6,68.3 L127.6,68.2 L129.6,68.2 L131.6,68.2 L133.6,68.2 L135.6,68.2 L137.6,68.2 L139.6,68.2 L141.6,68.1 L143.6,68.1 L145.6,68.1 L147.6,68.1 L149.6,68.1 L151.6,68.1 L153.6,68.1 L155.6,68.0 L157.6,68.0 L159.6,68.0 L161.6,68.0 L163.6,68.0 L165.6,68.0 L167.6,67.9 L169.6,67.9 L171.6,67.9 L173.6,67.9 L175.6,67.9 L177.6,67.9 L179.6,67.9 L181.6,67.8 L183.6,67.8 L185.6,67.8 L187.6,67.8 L189.6,67.8 L191.6,67.8 L193.6,67.7 L195.6,67.7 L197.6,67.7 L199.6,67.7 L201.6,67.7 L203.6,67.7 L205.6,67.7 L207.6,67.6 L209.6,67.6 L211.6,67.6 L213.6,67.6 L215.6,67.6 L217.6,67.6 L219.6,67.6 L221.6,67.5 L223.6,67.5 L225.6,67.5 L227.6,67.5 L229.6,67.5 L231.6,67.5 L233.6,67.4 L235.6,67.4 L237.6,67.4 L239.6,67.4 L241.6,67.4 L243.6,67.4 L245.6,67.4 L247.6,67.3 L249.6,67.3 L251.6,67.3 L253.6,67.3 L255.6,67.3 L257.6,67.3 L259.6,67.3 L261.6,67.2 L263.6,67.2 L265.6,67.2 L267.6,67.2 L269.6,67.2 L271.6,67.2 L273.6,67.1 L275.6,67.1 L277.6,67.1 L279.6,67.1 L281.6,67.1 L283.6,67.1 L285.6,67.1 L287.6,67.0 L289.6,67.0 L291.6,67.0 L293.6,67.0 L295.6,67.0 L297.6,67.0 L299.6,66.9 L301.6,66.9 L303.6,66.9 L305.6,66.9 L307.6,66.9 L309.6,66.9 L311.6,66.9 L313.6,66.8 L315.6,66.8 L317.6,66.8 L319.6,66.8 L321.6,66.8 L323.6,66.8 L325.6,66.8 L327.6,66.7 L329.6,66.7 L331.6,66.7 L333.6,66.7 L335.6,66.7 L337.6,66.7 L339.6,66.6 L341.6,66.6 L343.6,66.6 L345.6,66.6 L347.6,66.6 L349.6,66.6 L351.6,66.5 L353.6,66.5 L355.6,66.5 L357.6,66.5 L359.6,66.5 L361.6,66.5 L363.6,66.5 L365.6,66.4 L367.6,66.4 L369.6,66.4 L371.6,66.4 L373.6,66.4 L375.6,66.4 L377.6,66.3 L379.6,66.3 L381.6,66.3 L383.6,66.3 L385.6,66.3 L387.6,66.3 L389.6,66.2 L391.6,66.2 L393.6,66.2 L395.6,66.2 L397.6,66.2 L399.6,66.2 L401.6,66.1 L403.6,66.1 L405.6,66.1 L407.6,66.1 L409.6,66.1 L411.6,66.0 L413.6,66.0 L415.6,66.0 L417.6,66.0 L419.6,65.9 L421.6,65.9 L423.6,65.9 L425.6,65.9 L427.6,65.8 L429.6,65.8 L431.6,65.8 L433.6,65.8 L435.6,65.7 L437.6,65.7 L439.6,65.7 L441.6,65.6 L443.6,65.6 L445.6,65.6 L447.6,65.5 L449.6,65.5 L451.6,65.4 L453.6,65.4 L455.6,65.4 L457.6,65.3 L459.6,65.3 L461.6,65.2 L463.6,65.1 L465.6,65.1 L467.6,65.0 L469.6,64.9 L471.6,64.9 L473.6,64.8 L475.6,64.7 L477.6,64.6 L479.6,64.5 L481.6,64.4 L483.6,64.3 L485.6,64.2 L487.6,64.1 L489.6,64.0 L491.6,63.8 L493.6,63.7 L495.6,63.5 L497.6,63.4 L499.6,63.2 L501.6,63.0 L503.6,62.8 L505.6,62.6 L507.6,62.4 L509.6,62.2 L511.6,62.0 L513.6,61.7 L515.6,61.4 L517.6,61.1 L519.6,60.8 L521.6,60.5 L523.6,60.2 L525.6,59.8 L527.6,59.5 L529.6,59.1 L531.6,58.7 L533.6,58.3 L535.6,57.8 L537.6,57.4 L539.6,56.9 L541.6,56.4 L543.6,55.9 L545.6,55.3 L547.6,54.8 L549.6,54.2 L551.6,53.7 L553.6,53.1 L555.6,52.5 L557.6,51.8 L559.6,51.2 L561.6,50.6 L563.6,49.9 L565.6,49.3 L567.6,48.6 L569.6,48.0 L571.6,47.3 L573.6,46.6 L575.6,46.0 L577.6,45.3 L579.6,44.7 L581.6,44.1 L583.6,43.5 L585.6,42.9 L587.6,42.3 L589.6,41.8 L591.6,41.3 L593.6,40.9 L595.6,40.4 L597.6,40.1 L599.6,39.8 L601.6,39.6 L603.0,39.5" fill="none" stroke="#000080" stroke-width="4.6" stroke-linejoin="round" stroke-linecap="butt"/>
<path d="M123.6,51.5 L125.6,51.5 L127.6,51.5 L129.6,51.5 L131.6,51.5 L133.6,51.4 L135.6,51.4 L137.6,51.4 L139.6,51.4 L141.6,51.4 L143.6,51.4 L145.6,51.4 L147.6,51.4 L149.6,51.3 L151.6,51.3 L153.6,51.3 L155.6,51.3 L157.6,51.3 L159.6,51.3 L161.6,51.3 L163.6,51.2 L165.6,51.2 L167.6,51.2 L169.6,51.2 L171.6,51.2 L173.6,51.2 L175.6,51.2 L177.6,51.2 L179.6,51.1 L181.6,51.1 L183.6,51.1 L185.6,51.1 L187.6,51.1 L189.6,51.1 L191.6,51.1 L193.6,51.1 L195.6,51.0 L197.6,51.0 L199.6,51.0 L201.6,51.0 L203.6,51.0 L205.6,51.0 L207.6,51.0 L209.6,51.0 L211.6,50.9 L213.6,50.9 L215.6,50.9 L217.6,50.9 L219.6,50.9 L221.6,50.9 L223.6,50.9 L225.6,50.9 L227.6,50.8 L229.6,50.8 L231.6,50.8 L233.6,50.8 L235.6,50.8 L237.6,50.8 L239.6,50.8 L241.6,50.8 L243.6,50.7 L245.6,50.7 L247.6,50.7 L249.6,50.7 L251.6,50.7 L253.6,50.7 L255.6,50.7 L257.6,50.7 L259.6,50.6 L261.6,50.6 L263.6,50.6 L265.6,50.6 L267.6,50.6 L269.6,50.6 L271.6,50.6 L273.6,50.6 L275.6,50.5 L277.6,50.5 L279.6,50.5 L281.6,50.5 L283.6,50.5 L285.6,50.5 L287.6,50.5 L289.6,50.4 L291.6,50.4 L293.6,50.4 L295.6,50.4 L297.6,50.4 L299.6,50.4 L301.6,50.4 L303.6,50.4 L305.6,50.3 L307.6,50.3 L309.6,50.3 L311.6,50.3 L313.6,50.3 L315.6,50.3 L317.6,50.3 L319.6,50.3 L321.6,50.2 L323.6,50.2 L325.6,50.2 L327.6,50.2 L329.6,50.2 L331.6,50.2 L333.6,50.2 L335.6,50.2 L337.6,50.1 L339.6,50.1 L341.6,50.1 L343.6,50.1 L345.6,50.1 L347.6,50.1 L349.6,50.1 L351.6,50.1 L353.6,50.0 L355.6,50.0 L357.6,50.0 L359.6,50.0 L361.6,50.0 L363.6,50.0 L365.6,50.0 L367.6,50.0 L369.6,49.9 L371.6,49.9 L373.6,49.9 L375.6,49.9 L377.6,49.9 L379.6,49.9 L381.6,49.9 L383.6,49.9 L385.6,49.8 L387.6,49.8 L389.6,49.8 L391.6,49.8 L393.6,49.8 L395.6,49.8 L397.6,49.8 L399.6,49.8 L401.6,49.7 L403.6,49.7 L405.6,49.7 L407.6,49.7 L409.6,49.7 L411.6,49.7 L413.6,49.7 L415.6,49.7 L417.6,49.6 L419.6,49.6 L421.6,49.6 L423.6,49.6 L425.6,49.6 L427.6,49.6 L429.6,49.6 L431.6,49.5 L433.6,49.5 L435.6,49.5 L437.6,49.5 L439.6,49.5 L441.6,49.5 L443.6,49.5 L445.6,49.5 L447.6,49.4 L449.6,49.4 L451.6,49.4 L453.6,49.4 L455.6,49.4 L457.6,49.4 L459.6,49.4 L461.6,49.4 L463.6,49.3 L465.6,49.3 L467.6,49.3 L469.6,49.3 L471.6,49.3 L473.6,49.3 L475.6,49.3 L477.6,49.2 L479.6,49.2 L481.6,49.2 L483.6,49.2 L485.6,49.2 L487.6,49.1 L489.6,49.1 L491.6,49.1 L493.6,49.1 L495.6,49.0 L497.6,49.0 L499.6,49.0 L501.6,48.9 L503.6,48.9 L505.6,48.8 L507.6,48.8 L509.6,48.7 L511.6,48.7 L513.6,48.6 L515.6,48.5 L517.6,48.5 L519.6,48.4 L521.6,48.3 L523.6,48.2 L525.6,48.1 L527.6,48.0 L529.6,47.8 L531.6,47.7 L533.6,47.6 L535.6,47.4 L537.6,47.3 L539.6,47.1 L541.6,46.9 L543.6,46.7 L545.6,46.5 L547.6,46.3 L549.6,46.1 L551.6,45.9 L553.6,45.7 L555.6,45.5 L557.6,45.2 L559.6,45.0 L561.6,44.8 L563.6,44.5 L565.6,44.3 L567.6,44.0 L569.6,43.8 L571.6,43.5 L573.6,43.3 L575.6,43.0 L577.6,42.7 L579.6,42.5 L581.6,42.2 L583.6,42.0 L585.6,41.7 L587.6,41.5 L589.6,41.2 L591.6,40.9 L593.6,40.7 L595.6,40.4 L597.6,40.2 L599.6,39.9 L601.6,39.7 L603.0,39.5" fill="none" stroke="#800080" stroke-width="4.6" stroke-linejoin="round" stroke-linecap="butt"/>
<path d="M123.6,42.2 L125.6,42.2 L127.6,42.2 L129.6,42.2 L131.6,42.2 L133.6,42.2 L135.6,42.2 L137.6,42.2 L139.6,42.2 L141.6,42.2 L143.6,42.2 L145.6,42.2 L147.6,42.2 L149.6,42.2 L151.6,42.2 L153.6,42.2 L155.6,42.2 L157.6,42.2 L159.6,42.2 L161.6,42.2 L163.6,42.2 L165.6,42.2 L167.6,42.1 L169.6,42.1 L171.6,42.1 L173.6,42.1 L175.6,42.1 L177.6,42.1 L179.6,42.1 L181.6,42.1 L183.6,42.1 L185.6,42.1 L187.6,42.1 L189.6,42.1 L191.6,42.1 L193.6,42.1 L195.6,42.1 L197.6,42.1 L199.6,42.1 L201.6,42.1 L203.6,42.1 L205.6,42.1 L207.6,42.1 L209.6,42.1 L211.6,42.1 L213.6,42.1 L215.6,42.1 L217.6,42.1 L219.6,42.1 L221.6,42.1 L223.6,42.1 L225.6,42.1 L227.6,42.1 L229.6,42.0 L231.6,42.0 L233.6,42.0 L235.6,42.0 L237.6,42.0 L239.6,42.0 L241.6,42.0 L243.6,42.0 L245.6,42.0 L247.6,42.0 L249.6,42.0 L251.6,42.0 L253.6,42.0 L255.6,42.0 L257.6,42.0 L259.6,42.0 L261.6,42.0 L263.6,42.0 L265.6,42.0 L267.6,42.0 L269.6,42.0 L271.6,42.0 L273.6,42.0 L275.6,42.0 L277.6,42.0 L279.6,42.0 L281.6,42.0 L283.6,42.0 L285.6,42.0 L287.6,42.0 L289.6,42.0 L291.6,41.9 L293.6,41.9 L295.6,41.9 L297.6,41.9 L299.6,41.9 L301.6,41.9 L303.6,41.9 L305.6,41.9 L307.6,41.9 L309.6,41.9 L311.6,41.9 L313.6,41.9 L315.6,41.9 L317.6,41.9 L319.6,41.9 L321.6,41.9 L323.6,41.9 L325.6,41.9 L327.6,41.9 L329.6,41.9 L331.6,41.9 L333.6,41.9 L335.6,41.9 L337.6,41.9 L339.6,41.9 L341.6,41.9 L343.6,41.9 L345.6,41.9 L347.6,41.9 L349.6,41.9 L351.6,41.8 L353.6,41.8 L355.6,41.8 L357.6,41.8 L359.6,41.8 L361.6,41.8 L363.6,41.8 L365.6,41.8 L367.6,41.8 L369.6,41.8 L371.6,41.8 L373.6,41.8 L375.6,41.8 L377.6,41.8 L379.6,41.8 L381.6,41.8 L383.6,41.8 L385.6,41.8 L387.6,41.8 L389.6,41.8 L391.6,41.8 L393.6,41.8 L395.6,41.8 L397.6,41.8 L399.6,41.8 L401.6,41.8 L403.6,41.8 L405.6,41.8 L407.6,41.8 L409.6,41.7 L411.6,41.7 L413.6,41.7 L415.6,41.7 L417.6,41.7 L419.6,41.7 L421.6,41.7 L423.6,41.7 L425.6,41.7 L427.6,41.7 L429.6,41.7 L431.6,41.7 L433.6,41.7 L435.6,41.7 L437.6,41.7 L439.6,41.7 L441.6,41.7 L443.6,41.7 L445.6,41.7 L447.6,41.7 L449.6,41.7 L451.6,41.7 L453.6,41.7 L455.6,41.7 L457.6,41.7 L459.6,41.6 L461.6,41.6 L463.6,41.6 L465.6,41.6 L467.6,41.6 L469.6,41.6 L471.6,41.6 L473.6,41.6 L475.6,41.6 L477.6,41.6 L479.6,41.6 L481.6,41.6 L483.6,41.6 L485.6,41.6 L487.6,41.6 L489.6,41.6 L491.6,41.6 L493.6,41.6 L495.6,41.5 L497.6,41.5 L499.6,41.5 L501.6,41.5 L503.6,41.5 L505.6,41.5 L507.6,41.5 L509.6,41.5 L511.6,41.5 L513.6,41.5 L515.6,41.5 L517.6,41.5 L519.6,41.4 L521.6,41.4 L523.6,41.4 L525.6,41.4 L527.6,41.4 L529.6,41.4 L531.6,41.4 L533.6,41.3 L535.6,41.3 L537.6,41.3 L539.6,41.3 L541.6,41.3 L543.6,41.3 L545.6,41.2 L547.6,41.2 L549.6,41.2 L551.6,41.2 L553.6,41.1 L555.6,41.1 L557.6,41.1 L559.6,41.0 L561.6,41.0 L563.6,41.0 L565.6,40.9 L567.6,40.9 L569.6,40.8 L571.6,40.8 L573.6,40.7 L575.6,40.7 L577.6,40.6 L579.6,40.6 L581.6,40.5 L583.6,40.4 L585.6,40.4 L587.6,40.3 L589.6,40.2 L591.6,40.1 L593.6,40.0 L595.6,39.9 L597.6,39.8 L599.6,39.7 L601.6,39.6 L603.0,39.5" fill="none" stroke="#800000" stroke-width="4.6" stroke-linejoin="round" stroke-linecap="butt"/>
<line x1="123.60" y1="39.40" x2="623.20" y2="39.40" stroke="#6e6428" stroke-width="4.4" stroke-linecap="butt"/>
<line x1="123.60" y1="37.40" x2="623.20" y2="37.40" stroke="#4a8a88" stroke-width="4.4" stroke-linecap="butt"/>
<text x="114.80" y="41.60" font-size="22.6" font-weight="bold" text-anchor="end" fill="#000" stroke="#000" stroke-width="0.3" >0.00</text>
<text x="114.80" y="74.93" font-size="22.6" font-weight="bold" text-anchor="end" fill="#000" stroke="#000" stroke-width="0.3" >-0.05</text>
<text x="114.80" y="108.25" font-size="22.6" font-weight="bold" text-anchor="end" fill="#000" stroke="#000" stroke-width="0.3" >-0.10</text>
<text x="114.80" y="141.58" font-size="22.6" font-weight="bold" text-anchor="end" fill="#000" stroke="#000" stroke-width="0.3" >-0.15</text>
<text x="114.80" y="174.91" font-size="22.6" font-weight="bold" text-anchor="end" fill="#000" stroke="#000" stroke-width="0.3" >-0.20</text>
<text x="114.80" y="208.24" font-size="22.6" font-weight="bold" text-anchor="end" fill="#000" stroke="#000" stroke-width="0.3" >-0.25</text>
<text x="114.80" y="241.56" font-size="22.6" font-weight="bold" text-anchor="end" fill="#000" stroke="#000" stroke-width="0.3" >-0.30</text>
<text x="114.80" y="274.89" font-size="22.6" font-weight="bold" text-anchor="end" fill="#000" stroke="#000" stroke-width="0.3" >-0.35</text>
<text x="114.80" y="308.22" font-size="22.6" font-weight="bold" text-anchor="end" fill="#000" stroke="#000" stroke-width="0.3" >-0.40</text>
<text x="114.80" y="341.55" font-size="22.6" font-weight="bold" text-anchor="end" fill="#000" stroke="#000" stroke-width="0.3" >-0.45</text>
<text x="114.80" y="374.87" font-size="22.6" font-weight="bold" text-anchor="end" fill="#000" stroke="#000" stroke-width="0.3" >-0.50</text>
<text x="114.80" y="408.20" font-size="22.6" font-weight="bold" text-anchor="end" fill="#000" stroke="#000" stroke-width="0.3" >-0.55</text>
<text x="123.60" y="426.20" font-size="22.6" font-weight="bold" text-anchor="middle" fill="#000" stroke="#000" stroke-width="0.3" >-15</text>
<text x="223.52" y="426.20" font-size="22.6" font-weight="bold" text-anchor="middle" fill="#000" stroke="#000" stroke-width="0.3" >-12</text>
<text x="323.44" y="426.20" font-size="22.6" font-weight="bold" text-anchor="middle" fill="#000" stroke="#000" stroke-width="0.3" >-9</text>
<text x="423.36" y="426.20" font-size="22.6" font-weight="bold" text-anchor="middle" fill="#000" stroke="#000" stroke-width="0.3" >-6</text>
<text x="523.28" y="426.20" font-size="22.6" font-weight="bold" text-anchor="middle" fill="#000" stroke="#000" stroke-width="0.3" >-3</text>
<text x="623.20" y="426.20" font-size="22.6" font-weight="bold" text-anchor="middle" fill="#000" stroke="#000" stroke-width="0.3" >0</text>
<text x="337.6" y="448.5" font-size="23" font-weight="bold" fill="#000" stroke="#000" stroke-width="0.3">V<tspan font-size="13.5" dy="9.3">DS</tspan><tspan dy="-9.3"> (V)</tspan></text>
<text transform="translate(52.8,287.3) rotate(-90)" font-size="23.7" font-weight="bold" fill="#000" stroke="#000" stroke-width="0.3">I<tspan font-size="14" dy="9">DS</tspan><tspan dy="-9"> (mA/mm)</tspan></text>
<text x="-1.30" y="30.50" font-size="43" font-weight="normal" text-anchor="start" fill="#000" stroke="#000" stroke-width="0.3" >(a)</text>
<line x1="604.60" y1="389.30" x2="604.60" y2="96.00" stroke="#dc0a12" stroke-width="2.8" stroke-linecap="butt"/>
<path d="M599.9,99.6 L604.0,83.6 Q604.6,82.6 605.2,83.6 L609.4,99.6 Z" fill="#dc0a12"/>
<text x="493.89" y="330.70" font-size="18.3" font-weight="bold" text-anchor="start" fill="#d0141e" stroke="#d0141e" stroke-width="0.3" >V</text>
<text x="506.75" y="337.60" font-size="11.2" font-weight="bold" text-anchor="start" fill="#d0141e" stroke="#d0141e" stroke-width="0.3" >GS</text>
<text x="524.79" y="330.70" font-size="18.3" font-weight="bold" text-anchor="start" fill="#d0141e" stroke="#d0141e" stroke-width="0.3" >= -2</text>
<text transform="translate(553.4,330.7) scale(0.82,1)" font-size="18.3" font-weight="bold" fill="#d0141e" stroke="#d0141e" stroke-width="0.3">~</text>
<text x="561.33" y="330.70" font-size="18.3" font-weight="bold" text-anchor="start" fill="#d0141e" stroke="#d0141e" stroke-width="0.3" >10 V</text>
<text x="493.20" y="359.10" font-size="18.3" font-weight="bold" text-anchor="start" fill="#d0141e" stroke="#d0141e" stroke-width="0.3" >Step = 1 V</text>
<text x="493.20" y="381.50" font-size="18.3" font-weight="bold" text-anchor="start" fill="#d0141e" stroke="#d0141e" stroke-width="0.3" >T = 300 K</text>
<line x1="97.10" y1="852.55" x2="100.00" y2="852.55" stroke="#000" stroke-width="4.3" stroke-linecap="round"/>
<line x1="97.10" y1="836.93" x2="100.00" y2="836.93" stroke="#000" stroke-width="4.3" stroke-linecap="round"/>
<line x1="97.10" y1="824.16" x2="100.00" y2="824.16" stroke="#000" stroke-width="4.3" stroke-linecap="round"/>
<line x1="97.10" y1="813.37" x2="100.00" y2="813.37" stroke="#000" stroke-width="4.3" stroke-linecap="round"/>
<line x1="97.10" y1="804.02" x2="100.00" y2="804.02" stroke="#000" stroke-width="4.3" stroke-linecap="round"/>
<line x1="97.10" y1="795.78" x2="100.00" y2="795.78" stroke="#000" stroke-width="4.3" stroke-linecap="round"/>
<line x1="97.10" y1="788.40" x2="103.20" y2="788.40" stroke="#000" stroke-width="4.3" stroke-linecap="round"/>
<line x1="97.10" y1="739.87" x2="100.00" y2="739.87" stroke="#000" stroke-width="4.3" stroke-linecap="round"/>
<line x1="97.10" y1="711.49" x2="100.00" y2="711.49" stroke="#000" stroke-width="4.3" stroke-linecap="round"/>
<line x1="97.10" y1="691.35" x2="100.00" y2="691.35" stroke="#000" stroke-width="4.3" stroke-linecap="round"/>
<line x1="97.10" y1="675.73" x2="100.00" y2="675.73" stroke="#000" stroke-width="4.3" stroke-linecap="round"/>
<line x1="97.10" y1="662.96" x2="100.00" y2="662.96" stroke="#000" stroke-width="4.3" stroke-linecap="round"/>
<line x1="97.10" y1="652.17" x2="100.00" y2="652.17" stroke="#000" stroke-width="4.3" stroke-linecap="round"/>
<line x1="97.10" y1="642.82" x2="100.00" y2="642.82" stroke="#000" stroke-width="4.3" stroke-linecap="round"/>
<line x1="97.10" y1="634.58" x2="100.00" y2="634.58" stroke="#000" stroke-width="4.3" stroke-linecap="round"/>
<line x1="97.10" y1="627.20" x2="103.20" y2="627.20" stroke="#000" stroke-width="4.3" stroke-linecap="round"/>
<line x1="97.10" y1="578.67" x2="100.00" y2="578.67" stroke="#000" stroke-width="4.3" stroke-linecap="round"/>
<line x1="97.10" y1="550.29" x2="100.00" y2="550.29" stroke="#000" stroke-width="4.3" stroke-linecap="round"/>
<line x1="97.10" y1="530.15" x2="100.00" y2="530.15" stroke="#000" stroke-width="4.3" stroke-linecap="round"/>
<line x1="97.10" y1="514.53" x2="100.00" y2="514.53" stroke="#000" stroke-width="4.3" stroke-linecap="round"/>
<line x1="594.70" y1="848.80" x2="588.60" y2="848.80" stroke="#000" stroke-width="4.3" stroke-linecap="round"/>
<line x1="594.70" y1="825.70" x2="591.80" y2="825.70" stroke="#000" stroke-width="4.3" stroke-linecap="round"/>
<line x1="594.70" y1="802.60" x2="588.60" y2="802.60" stroke="#000" stroke-width="4.3" stroke-linecap="round"/>
<line x1="594.70" y1="779.50" x2="591.80" y2="779.50" stroke="#000" stroke-width="4.3" stroke-linecap="round"/>
<line x1="594.70" y1="756.40" x2="588.60" y2="756.40" stroke="#000" stroke-width="4.3" stroke-linecap="round"/>
<line x1="594.70" y1="733.30" x2="591.80" y2="733.30" stroke="#000" stroke-width="4.3" stroke-linecap="round"/>
<line x1="594.70" y1="710.20" x2="588.60" y2="710.20" stroke="#000" stroke-width="4.3" stroke-linecap="round"/>
<line x1="594.70" y1="687.10" x2="591.80" y2="687.10" stroke="#000" stroke-width="4.3" stroke-linecap="round"/>
<line x1="594.70" y1="664.00" x2="588.60" y2="664.00" stroke="#000" stroke-width="4.3" stroke-linecap="round"/>
<line x1="594.70" y1="640.90" x2="591.80" y2="640.90" stroke="#000" stroke-width="4.3" stroke-linecap="round"/>
<line x1="594.70" y1="617.80" x2="588.60" y2="617.80" stroke="#000" stroke-width="4.3" stroke-linecap="round"/>
<line x1="594.70" y1="594.70" x2="591.80" y2="594.70" stroke="#000" stroke-width="4.3" stroke-linecap="round"/>
<line x1="594.70" y1="571.60" x2="588.60" y2="571.60" stroke="#000" stroke-width="4.3" stroke-linecap="round"/>
<line x1="594.70" y1="548.50" x2="591.80" y2="548.50" stroke="#000" stroke-width="4.3" stroke-linecap="round"/>
<line x1="594.70" y1="525.40" x2="588.60" y2="525.40" stroke="#000" stroke-width="4.3" stroke-linecap="round"/>
<line x1="113.76" y1="870.60" x2="113.76" y2="867.70" stroke="#000" stroke-width="4.3" stroke-linecap="round"/>
<line x1="131.61" y1="870.60" x2="131.61" y2="864.50" stroke="#000" stroke-width="4.3" stroke-linecap="round"/>
<line x1="149.47" y1="870.60" x2="149.47" y2="867.70" stroke="#000" stroke-width="4.3" stroke-linecap="round"/>
<line x1="167.33" y1="870.60" x2="167.33" y2="864.50" stroke="#000" stroke-width="4.3" stroke-linecap="round"/>
<line x1="185.19" y1="870.60" x2="185.19" y2="867.70" stroke="#000" stroke-width="4.3" stroke-linecap="round"/>
<line x1="203.04" y1="870.60" x2="203.04" y2="864.50" stroke="#000" stroke-width="4.3" stroke-linecap="round"/>
<line x1="220.90" y1="870.60" x2="220.90" y2="867.70" stroke="#000" stroke-width="4.3" stroke-linecap="round"/>
<line x1="238.76" y1="870.60" x2="238.76" y2="864.50" stroke="#000" stroke-width="4.3" stroke-linecap="round"/>
<line x1="256.61" y1="870.60" x2="256.61" y2="867.70" stroke="#000" stroke-width="4.3" stroke-linecap="round"/>
<line x1="274.47" y1="870.60" x2="274.47" y2="864.50" stroke="#000" stroke-width="4.3" stroke-linecap="round"/>
<line x1="292.33" y1="870.60" x2="292.33" y2="867.70" stroke="#000" stroke-width="4.3" stroke-linecap="round"/>
<line x1="310.19" y1="870.60" x2="310.19" y2="864.50" stroke="#000" stroke-width="4.3" stroke-linecap="round"/>
<line x1="328.04" y1="870.60" x2="328.04" y2="867.70" stroke="#000" stroke-width="4.3" stroke-linecap="round"/>
<line x1="345.90" y1="870.60" x2="345.90" y2="864.50" stroke="#000" stroke-width="4.3" stroke-linecap="round"/>
<line x1="363.76" y1="870.60" x2="363.76" y2="867.70" stroke="#000" stroke-width="4.3" stroke-linecap="round"/>
<line x1="381.61" y1="870.60" x2="381.61" y2="864.50" stroke="#000" stroke-width="4.3" stroke-linecap="round"/>
<line x1="399.47" y1="870.60" x2="399.47" y2="867.70" stroke="#000" stroke-width="4.3" stroke-linecap="round"/>
<line x1="417.33" y1="870.60" x2="417.33" y2="864.50" stroke="#000" stroke-width="4.3" stroke-linecap="round"/>
<line x1="435.19" y1="870.60" x2="435.19" y2="867.70" stroke="#000" stroke-width="4.3" stroke-linecap="round"/>
<line x1="453.04" y1="870.60" x2="453.04" y2="864.50" stroke="#000" stroke-width="4.3" stroke-linecap="round"/>
<line x1="470.90" y1="870.60" x2="470.90" y2="867.70" stroke="#000" stroke-width="4.3" stroke-linecap="round"/>
<line x1="488.76" y1="870.60" x2="488.76" y2="864.50" stroke="#000" stroke-width="4.3" stroke-linecap="round"/>
<line x1="506.61" y1="870.60" x2="506.61" y2="867.70" stroke="#000" stroke-width="4.3" stroke-linecap="round"/>
<line x1="524.47" y1="870.60" x2="524.47" y2="864.50" stroke="#000" stroke-width="4.3" stroke-linecap="round"/>
<line x1="542.33" y1="870.60" x2="542.33" y2="867.70" stroke="#000" stroke-width="4.3" stroke-linecap="round"/>
<line x1="560.19" y1="870.60" x2="560.19" y2="864.50" stroke="#000" stroke-width="4.3" stroke-linecap="round"/>
<line x1="578.04" y1="870.60" x2="578.04" y2="867.70" stroke="#000" stroke-width="4.3" stroke-linecap="round"/>
<rect x="95.9" y="502.9" width="500.0" height="368.9" fill="none" stroke="#000" stroke-width="4.0" stroke-linejoin="round"/>
<polyline points="131.61,546.10 167.33,578.90 203.04,560.70 238.76,514.30 274.47,537.70 310.19,569.80 345.90,608.40 381.61,654.90 417.33,706.10 453.04,759.30 488.76,805.50 524.47,833.00 560.19,841.30" fill="none" stroke="#d40000" stroke-width="4.6" stroke-linejoin="round"/>
<polyline points="131.61,512.40 167.33,521.60 203.04,530.40 238.76,545.00 274.47,561.80 310.19,581.90 345.90,606.40 381.61,637.20 417.33,674.60 453.04,721.90 488.76,777.10 524.47,819.70 560.19,841.30" fill="none" stroke="#000" stroke-width="4.6" stroke-linejoin="round"/>
<path d="M126.71,542.30 L136.51,542.30 L131.61,550.90 Z" fill="#d40000" stroke="#fff" stroke-width="1.1" paint-order="stroke" stroke-linejoin="miter"/>
<path d="M162.43,575.10 L172.23,575.10 L167.33,583.70 Z" fill="#d40000" stroke="#fff" stroke-width="1.1" paint-order="stroke" stroke-linejoin="miter"/>
<path d="M198.14,556.90 L207.94,556.90 L203.04,565.50 Z" fill="#d40000" stroke="#fff" stroke-width="1.1" paint-order="stroke" stroke-linejoin="miter"/>
<path d="M233.86,510.50 L243.66,510.50 L238.76,519.10 Z" fill="#d40000" stroke="#fff" stroke-width="1.1" paint-order="stroke" stroke-linejoin="miter"/>
<path d="M269.57,533.90 L279.37,533.90 L274.47,542.50 Z" fill="#d40000" stroke="#fff" stroke-width="1.1" paint-order="stroke" stroke-linejoin="miter"/>
<path d="M305.29,566.00 L315.09,566.00 L310.19,574.60 Z" fill="#d40000" stroke="#fff" stroke-width="1.1" paint-order="stroke" stroke-linejoin="miter"/>
<path d="M341.00,604.60 L350.80,604.60 L345.90,613.20 Z" fill="#d40000" stroke="#fff" stroke-width="1.1" paint-order="stroke" stroke-linejoin="miter"/>
<path d="M376.71,651.10 L386.51,651.10 L381.61,659.70 Z" fill="#d40000" stroke="#fff" stroke-width="1.1" paint-order="stroke" stroke-linejoin="miter"/>
<path d="M412.43,702.30 L422.23,702.30 L417.33,710.90 Z" fill="#d40000" stroke="#fff" stroke-width="1.1" paint-order="stroke" stroke-linejoin="miter"/>
<path d="M448.14,755.50 L457.94,755.50 L453.04,764.10 Z" fill="#d40000" stroke="#fff" stroke-width="1.1" paint-order="stroke" stroke-linejoin="miter"/>
<path d="M483.86,801.70 L493.66,801.70 L488.76,810.30 Z" fill="#d40000" stroke="#fff" stroke-width="1.1" paint-order="stroke" stroke-linejoin="miter"/>
<path d="M519.57,829.20 L529.37,829.20 L524.47,837.80 Z" fill="#d40000" stroke="#fff" stroke-width="1.1" paint-order="stroke" stroke-linejoin="miter"/>
<path d="M555.29,837.50 L565.09,837.50 L560.19,846.10 Z" fill="#d40000" stroke="#fff" stroke-width="1.1" paint-order="stroke" stroke-linejoin="miter"/>
<rect x="127.71" y="508.50" width="7.8" height="7.8" fill="#000"/>
<rect x="163.43" y="517.70" width="7.8" height="7.8" fill="#000"/>
<rect x="199.14" y="526.50" width="7.8" height="7.8" fill="#000"/>
<rect x="234.86" y="541.10" width="7.8" height="7.8" fill="#000"/>
<rect x="270.57" y="557.90" width="7.8" height="7.8" fill="#000"/>
<rect x="306.29" y="578.00" width="7.8" height="7.8" fill="#000"/>
<rect x="342.00" y="602.50" width="7.8" height="7.8" fill="#000"/>
<rect x="377.71" y="633.30" width="7.8" height="7.8" fill="#000"/>
<rect x="413.43" y="670.70" width="7.8" height="7.8" fill="#000"/>
<rect x="449.14" y="718.00" width="7.8" height="7.8" fill="#000"/>
<rect x="484.86" y="773.20" width="7.8" height="7.8" fill="#000"/>
<rect x="520.57" y="815.80" width="7.8" height="7.8" fill="#000"/>
<rect x="556.29" y="837.40" width="7.8" height="7.8" fill="#000"/>
<text x="95.90" y="900.20" font-size="24.5" font-weight="bold" text-anchor="middle" fill="#000" stroke="#000" stroke-width="0.3" >-3</text>
<text x="131.61" y="900.20" font-size="24.5" font-weight="bold" text-anchor="middle" fill="#000" stroke="#000" stroke-width="0.3" >-2</text>
<text x="167.33" y="900.20" font-size="24.5" font-weight="bold" text-anchor="middle" fill="#000" stroke="#000" stroke-width="0.3" >-1</text>
<text x="203.04" y="900.20" font-size="24.5" font-weight="bold" text-anchor="middle" fill="#000" stroke="#000" stroke-width="0.3" >0</text>
<text x="238.76" y="900.20" font-size="24.5" font-weight="bold" text-anchor="middle" fill="#000" stroke="#000" stroke-width="0.3" >1</text>
<text x="274.47" y="900.20" font-size="24.5" font-weight="bold" text-anchor="middle" fill="#000" stroke="#000" stroke-width="0.3" >2</text>
<text x="310.19" y="900.20" font-size="24.5" font-weight="bold" text-anchor="middle" fill="#000" stroke="#000" stroke-width="0.3" >3</text>
<text x="345.90" y="900.20" font-size="24.5" font-weight="bold" text-anchor="middle" fill="#000" stroke="#000" stroke-width="0.3" >4</text>
<text x="381.61" y="900.20" font-size="24.5" font-weight="bold" text-anchor="middle" fill="#000" stroke="#000" stroke-width="0.3" >5</text>
<text x="417.33" y="900.20" font-size="24.5" font-weight="bold" text-anchor="middle" fill="#000" stroke="#000" stroke-width="0.3" >6</text>
<text x="453.04" y="900.20" font-size="24.5" font-weight="bold" text-anchor="middle" fill="#000" stroke="#000" stroke-width="0.3" >7</text>
<text x="488.76" y="900.20" font-size="24.5" font-weight="bold" text-anchor="middle" fill="#000" stroke="#000" stroke-width="0.3" >8</text>
<text x="524.47" y="900.20" font-size="24.5" font-weight="bold" text-anchor="middle" fill="#000" stroke="#000" stroke-width="0.3" >9</text>
<text x="560.19" y="900.20" font-size="24.5" font-weight="bold" text-anchor="middle" fill="#000" stroke="#000" stroke-width="0.3" >10</text>
<text x="595.90" y="900.20" font-size="24.5" font-weight="bold" text-anchor="middle" fill="#000" stroke="#000" stroke-width="0.3" >11</text>
<text x="605.00" y="857.00" font-size="24.5" font-weight="bold" text-anchor="start" fill="#000" stroke="#000" stroke-width="0.3" >0.00</text>
<text x="605.00" y="810.80" font-size="24.5" font-weight="bold" text-anchor="start" fill="#000" stroke="#000" stroke-width="0.3" >0.01</text>
<text x="605.00" y="764.60" font-size="24.5" font-weight="bold" text-anchor="start" fill="#000" stroke="#000" stroke-width="0.3" >0.02</text>
<text x="605.00" y="718.40" font-size="24.5" font-weight="bold" text-anchor="start" fill="#000" stroke="#000" stroke-width="0.3" >0.03</text>
<text x="605.00" y="672.20" font-size="24.5" font-weight="bold" text-anchor="start" fill="#000" stroke="#000" stroke-width="0.3" >0.04</text>
<text x="605.00" y="626.00" font-size="24.5" font-weight="bold" text-anchor="start" fill="#000" stroke="#000" stroke-width="0.3" >0.05</text>
<text x="605.00" y="579.80" font-size="24.5" font-weight="bold" text-anchor="start" fill="#000" stroke="#000" stroke-width="0.3" >0.06</text>
<text x="605.00" y="533.60" font-size="24.5" font-weight="bold" text-anchor="start" fill="#000" stroke="#000" stroke-width="0.3" >0.07</text>
<text x="51.00" y="637.80" font-size="25.5" font-weight="bold" text-anchor="start" fill="#000" stroke="#000" stroke-width="0.3" >10</text>
<text x="74.80" y="625.30" font-size="14.5" font-weight="bold" text-anchor="start" fill="#000" stroke="#000" stroke-width="0.3" >-1</text>
<text x="51.00" y="798.20" font-size="25.5" font-weight="bold" text-anchor="start" fill="#000" stroke="#000" stroke-width="0.3" >10</text>
<text x="74.80" y="785.70" font-size="14.5" font-weight="bold" text-anchor="start" fill="#000" stroke="#000" stroke-width="0.3" >-2</text>
<text x="310.94" y="923.20" font-size="23.5" font-weight="bold" text-anchor="start" fill="#000" stroke="#000" stroke-width="0.3" >V</text>
<text x="327.94" y="932.60" font-size="13.6" font-weight="bold" text-anchor="start" fill="#000" stroke="#000" stroke-width="0.3" >GS</text>
<text x="346.67" y="924.10" font-size="25.8" font-weight="bold" text-anchor="start" fill="#000" stroke="#000" stroke-width="0.3" >(V)</text>
<text transform="translate(37.8,775.8) rotate(-90)" font-size="25" font-weight="bold" fill="#000" stroke="#000" stroke-width="0.3">I<tspan font-size="15.5" dy="9">DS</tspan><tspan dy="-9"> (mA/mm)</tspan></text>
<text transform="translate(675.7,762.75) rotate(-90)" font-size="25" font-weight="bold" fill="#000" stroke="#000" stroke-width="0.3">g</text>
<text transform="translate(683.7,749.3) rotate(-90)" font-size="12.5" font-weight="bold" fill="#000" stroke="#000" stroke-width="0.3">m</text>
<text transform="translate(675.7,731.6) rotate(-90)" font-size="25" font-weight="bold" fill="#000" stroke="#000" stroke-width="0.3">(ms/mm)</text>
<text x="2.30" y="486.80" font-size="43.6" font-weight="normal" text-anchor="start" fill="#000" stroke="#000" stroke-width="0.3" >(b)</text>
<line x1="312.20" y1="790.20" x2="354.40" y2="790.20" stroke="#000" stroke-width="4.4" stroke-linecap="round"/>
<rect x="330.2" y="786.8" width="7.2" height="7.2" fill="#000"/>
<line x1="312.20" y1="820.70" x2="355.20" y2="820.70" stroke="#d40000" stroke-width="4.4" stroke-linecap="round"/>
<path d="M329.7,819.7 L336.90000000000003,819.7 L333.3,825.9000000000001 Z" fill="#d40000"/>
<text x="361" y="796.9" font-size="19.5" font-weight="bold" fill="#000" stroke="#000" stroke-width="0.3">I<tspan font-size="12.5" dy="7">DS</tspan></text>
<text x="360.8" y="827.3" font-size="19.5" font-weight="bold" fill="#000" stroke="#000" stroke-width="0.3">g<tspan font-size="12.5" dy="6">m</tspan></text>
<text x="411.48" y="535.70" font-size="19.3" font-weight="bold" text-anchor="start" fill="#d40000" stroke="#d40000" stroke-width="0.3" >V</text>
<text x="426.09" y="543.00" font-size="12.2" font-weight="bold" text-anchor="start" fill="#d40000" stroke="#d40000" stroke-width="0.3" >DS</text>
<text x="445.74" y="535.70" font-size="19.3" font-weight="bold" text-anchor="start" fill="#d40000" stroke="#d40000" stroke-width="0.3" >= -10</text>
<text x="491.58" y="535.70" font-size="19.3" font-weight="bold" text-anchor="start" fill="#d40000" stroke="#d40000" stroke-width="0.3" >V,</text>
<text x="517.47" y="535.70" font-size="19.3" font-weight="bold" text-anchor="start" fill="#d40000" stroke="#d40000" stroke-width="0.3" >300</text>
<text x="552.67" y="535.70" font-size="19.3" font-weight="bold" text-anchor="start" fill="#d40000" stroke="#d40000" stroke-width="0.3" >K</text></svg>
</body></html>
